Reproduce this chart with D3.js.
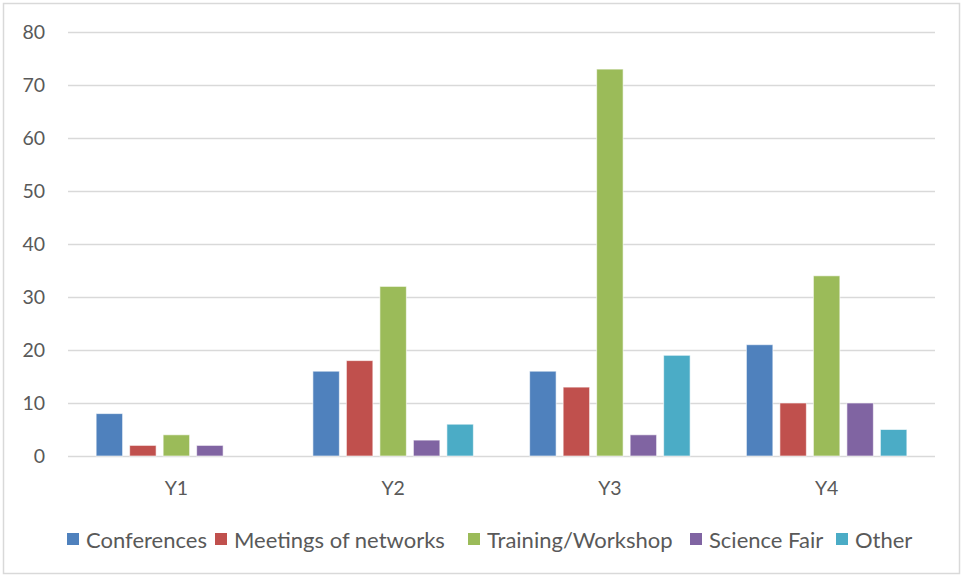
<!DOCTYPE html>
<html>
<head>
<meta charset="utf-8">
<script src="https://cdn.jsdelivr.net/npm/d3@7"></script>
<style>
  html, body { margin: 0; padding: 0; background: #fff; }
  svg { display: block; }
  text { font-family: Lato, "Open Sans", sans-serif; fill: #595959; }
</style>
</head>
<body>
<svg id="chart" width="963" height="577"></svg>
<script>
// Activity counts per year
const categories = ["Y1", "Y2", "Y3", "Y4"];
const seriesNames = ["Conferences", "Meetings of networks", "Training/Workshop", "Science Fair", "Other"];
const conferences = [8, 16, 16, 21];
const meetings = [2, 18, 13, 10];
const training = [4, 32, 73, 34];
const scienceFair = [2, 3, 4, 10];
const other = [0, 6, 19, 5];
const yTicks = [0, 10, 20, 30, 40, 50, 60, 70, 80];
const colors = ["#4F81BD", "#C0504D", "#9BBB59", "#8064A2", "#4BACC6"];

const seriesValues = [conferences, meetings, training, scienceFair, other];

const svg = d3.select("#chart");
const W = 963, H = 577;
const plot = { left: 68, right: 935, top: 32, bottom: 456 };

// Outer chart border
svg.append("rect")
  .attr("x", 3.5).attr("y", 3.5)
  .attr("width", W - 7).attr("height", H - 7)
  .attr("fill", "#fff").attr("stroke", "#D9D9D9").attr("stroke-width", 1.5);

const y = d3.scaleLinear().domain([0, 80]).range([plot.bottom, plot.top]);
const x0 = d3.scaleBand().domain(categories).range([plot.left, plot.right]).padding(0);
const x1 = d3.scaleBand().domain(seriesNames).range([0, x0.bandwidth()])
  .paddingInner(0.21).paddingOuter(0.84);

// Gridlines
svg.append("g")
  .selectAll("line")
  .data(yTicks)
  .join("line")
  .attr("x1", plot.left).attr("x2", plot.right)
  .attr("y1", d => Math.round(y(d)) + 0.5).attr("y2", d => Math.round(y(d)) + 0.5)
  .attr("stroke", "#D9D9D9").attr("stroke-width", 1.5);

// Y axis labels
const yAxis = d3.axisLeft(y).tickValues(yTicks).tickSize(0).tickPadding(0);
const gy = svg.append("g").attr("transform", "translate(45,0)").call(yAxis);
gy.select(".domain").remove();
gy.selectAll("text")
  .attr("font-size", 19.5).attr("fill", "#595959")
  .style("font-family", "Lato, 'Open Sans', sans-serif");

// X axis labels
const xAxis = d3.axisBottom(x0).tickSize(0).tickPadding(0);
const gx = svg.append("g").attr("transform", "translate(0,481)").call(xAxis);
gx.select(".domain").remove();
gx.selectAll("text")
  .attr("font-size", 19.5).attr("fill", "#595959")
  .style("font-family", "Lato, 'Open Sans', sans-serif");

// Bars
const groups = svg.append("g")
  .selectAll("g")
  .data(categories)
  .join("g")
  .attr("transform", d => `translate(${x0(d)},0)`);

groups.selectAll("rect")
  .data((c, ci) => seriesNames.map((s, si) => ({ s, si, v: seriesValues[si][ci] })))
  .join("rect")
  .filter(d => d.v > 0)
  .attr("x", d => x1(d.s))
  .attr("y", d => y(d.v))
  .attr("width", x1.bandwidth())
  .attr("height", d => y(0) - y(d.v))
  .attr("fill", d => colors[d.si])
  .attr("stroke", "#fff").attr("stroke-opacity", 0.6).attr("stroke-width", 1);

// Legend
const legendX = [67, 215, 468, 690, 836];
const legend = svg.append("g").attr("transform", "translate(0,540)");
seriesNames.forEach((name, i) => {
  legend.append("rect")
    .attr("x", legendX[i]).attr("y", -7)
    .attr("width", 12).attr("height", 12)
    .attr("fill", colors[i]);
  legend.append("text")
    .attr("x", legendX[i] + 19).attr("y", 0)
    .attr("dy", "0.35em")
    .attr("font-size", 22)
    .text(name);
});
</script>
</body>
</html>
